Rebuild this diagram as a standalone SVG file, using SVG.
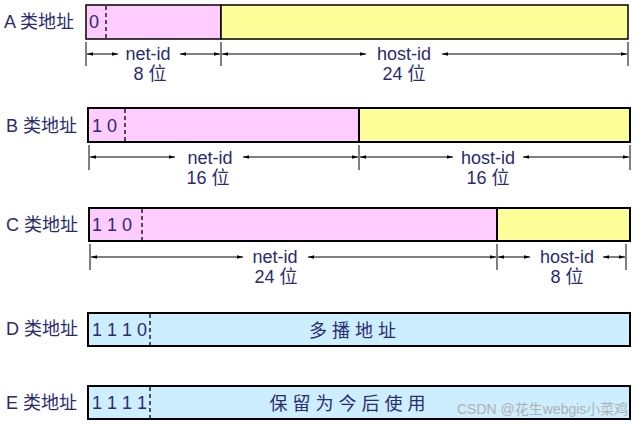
<svg xmlns="http://www.w3.org/2000/svg" width="636" height="427" viewBox="0 0 636 427">
<defs>
<marker id="ar" viewBox="0 0 10 10" refX="10" refY="5" markerWidth="6" markerHeight="6" orient="auto-start-reverse"><path d="M0,2 L10,5 L0,8 z" fill="#000"/></marker>
<style>
text{font-family:"Liberation Sans","Noto Sans CJK SC",sans-serif;fill:#2b2b70;font-size:18px}
.pink{fill:#ffccff;stroke:#000;stroke-width:1.5}
.yel{fill:#ffff99;stroke:#000;stroke-width:1.5}
.blue{fill:#cceeff;stroke:#000;stroke-width:2}
.dash{stroke:#000;stroke-width:1.3;stroke-dasharray:4,3}
.tick{stroke:#000;stroke-width:1}
.dim{stroke:#000;stroke-width:1;marker-start:url(#ar);marker-end:url(#ar)}
.mid{text-anchor:middle}
.wm{fill:#b0b0b0;font-size:14px}
</style>
</defs>
<g id="A">
<text x="4" y="28">A 类地址</text>
<rect class="pink" x="86" y="5" width="135" height="34"/>
<rect class="yel" x="221" y="5" width="407" height="34"/>
<line class="dash" x1="106" y1="6" x2="106" y2="38"/>
<text x="89" y="28">0</text>
<text class="mid" x="148" y="60">net-id</text><text class="mid" x="150" y="80">8 位</text>
<text class="mid" x="404" y="60">host-id</text><text class="mid" x="404" y="80">24 位</text>
</g>
<g id="B">
<text x="6" y="132">B 类地址</text>
<rect class="pink" x="88" y="108" width="271" height="34" style="stroke-width:2"/>
<rect class="yel" x="359" y="108" width="271" height="34" style="stroke-width:2"/>
<line class="dash" x1="125" y1="109" x2="125" y2="141"/>
<text x="92" y="132">1 0</text>
<text class="mid" x="210" y="164">net-id</text><text class="mid" x="208" y="184">16 位</text>
<text class="mid" x="488" y="164">host-id</text><text class="mid" x="488" y="184">16 位</text>
</g>
<g id="C">
<text x="6" y="231">C 类地址</text>
<rect class="pink" x="89" y="208" width="408" height="33" style="stroke-width:2"/>
<rect class="yel" x="497" y="208" width="133" height="33" style="stroke-width:2"/>
<line class="dash" x1="142" y1="209" x2="142" y2="240"/>
<text x="92" y="231">1 1 0</text>
<text class="mid" x="275" y="263">net-id</text><text class="mid" x="276" y="283">24 位</text>
<text class="mid" x="567" y="263">host-id</text><text class="mid" x="567" y="283">8 位</text>
</g>
<g id="D">
<text x="6" y="335">D 类地址</text>
<rect class="blue" x="88" y="313" width="542" height="33"/>
<line class="dash" x1="150" y1="314" x2="150" y2="345"/>
<text x="92" y="336">1 1 1 0</text>
<text class="mid" x="355" y="337" style="letter-spacing:5px">多播地址</text>
</g>
<g id="E">
<text x="6" y="409">E 类地址</text>
<rect class="blue" x="88" y="386" width="542" height="33"/>
<line class="dash" x1="150" y1="387" x2="150" y2="418"/>
<text x="92" y="409">1 1 1 1</text>
<text class="mid" x="350" y="410" style="letter-spacing:5px">保留为今后使用</text>
<text class="wm" x="457" y="414">CSDN @花生webgis小菜鸡</text>
</g>
<g id="connectors">
<line class="tick" x1="86" y1="42" x2="86" y2="66"/><line class="tick" x1="221" y1="42" x2="221" y2="66"/><line class="tick" x1="628" y1="42" x2="628" y2="66"/>
<line class="dim" x1="87" y1="54" x2="118" y2="54"/><line class="dim" x1="180" y1="54" x2="220" y2="54"/>
<line class="dim" x1="222" y1="54" x2="366" y2="54"/><line class="dim" x1="442" y1="54" x2="627" y2="54"/>
<line class="tick" x1="89" y1="145" x2="89" y2="170"/><line class="tick" x1="359" y1="145" x2="359" y2="170"/><line class="tick" x1="630" y1="145" x2="630" y2="170"/>
<line class="dim" x1="90" y1="157" x2="175" y2="157"/><line class="dim" x1="243" y1="157" x2="358" y2="157"/>
<line class="dim" x1="360" y1="157" x2="453" y2="157"/><line class="dim" x1="523" y1="157" x2="629" y2="157"/>
<line class="tick" x1="90" y1="244" x2="90" y2="270"/><line class="tick" x1="497" y1="244" x2="497" y2="270"/><line class="tick" x1="626" y1="244" x2="626" y2="270"/>
<line class="dim" x1="91" y1="257" x2="243" y2="257"/><line class="dim" x1="308" y1="257" x2="496" y2="257"/>
<line class="dim" x1="498" y1="257" x2="530" y2="257"/><line class="dim" x1="603" y1="257" x2="625" y2="257"/>
</g>
</svg>
